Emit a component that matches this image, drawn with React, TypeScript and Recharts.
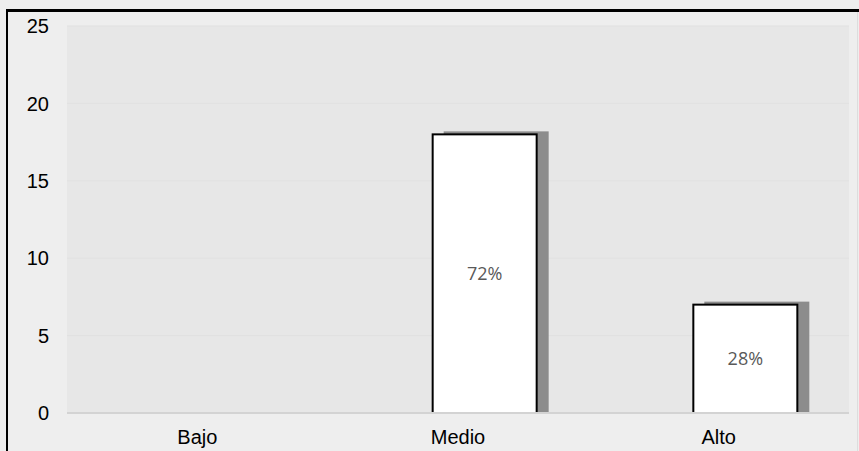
import React from 'react';
import { BarChart, Bar, XAxis, YAxis, CartesianGrid, LabelList } from 'recharts';

// Chart data
const categories = ['Bajo', 'Medio', 'Alto'];
const counts = [0, 18, 7];
const yTicks = [0, 5, 10, 15, 20, 25];

const total = counts.reduce((a, b) => a + b, 0);
const data = categories.map((name, i) => ({ name, count: counts[i] }));

const W = 859;
const H = 451;

// White bar with black outline and a gray drop shadow up and to the right
const ShadowBar = (props: any) => {
  const { x, y, width, height } = props;
  if (!height || height <= 0) return null;
  return (
    <g>
      <rect x={x + 11} y={y - 3} width={width + 1} height={height + 3} fill="#8c8c8c" />
      <rect x={x} y={y} width={width} height={height} fill="#ffffff" stroke="#000000" strokeWidth={2} />
    </g>
  );
};

const pct = (v: any) => (v ? `${Math.round((Number(v) / total) * 100)}%` : '');

const axisFont = { fill: '#000', fontSize: 20, fontFamily: 'Liberation Sans, Arial, sans-serif' };

export default function App() {
  return (
    <div
      style={{
        position: 'absolute',
        left: 0,
        top: 0,
        width: W,
        height: H,
        background: '#eeeeee',
        overflow: 'hidden',
      }}
    >
      <div
        style={{
          position: 'absolute',
          left: 6,
          top: 9,
          width: W,
          height: H,
          boxSizing: 'border-box',
          borderTop: '3px solid #000',
          borderLeft: '2px solid #000',
        }}
      />
      <div
        style={{
          position: 'absolute',
          left: W - 2,
          top: 12,
          width: 1,
          height: H,
          background: '#dddddd',
        }}
      />
      <div style={{ position: 'absolute', left: 0, top: 0 }}>
        <BarChart
          width={W}
          height={H}
          data={data}
          margin={{ top: 26, right: 10, left: 0, bottom: 0 }}
          barSize={104}
        >
          <CartesianGrid vertical={false} fill="#e7e7e7" stroke="#e1e1e1" />
          <XAxis
            dataKey="name"
            height={38}
            tickLine={false}
            tickSize={6}
            tickMargin={11}
            axisLine={{ stroke: '#d3d3d3', strokeWidth: 2 }}
            tick={axisFont}
          />
          <XAxis
            xAxisId="bars"
            dataKey="name"
            hide
            padding={{ left: 27, right: -27 }}
          />
          <YAxis
            width={67}
            domain={[0, 25]}
            ticks={yTicks}
            axisLine={false}
            tickLine={false}
            tickSize={6}
            tickMargin={12}
            tick={axisFont}
          />
          <Bar dataKey="count" xAxisId="bars" shape={ShadowBar} isAnimationActive={false}>
            <LabelList
              dataKey="count"
              position="center"
              formatter={pct}
              fill="#595959"
              fontSize={18}
              fontFamily="Open Sans, sans-serif"
            />
          </Bar>
        </BarChart>
      </div>
    </div>
  );
}
